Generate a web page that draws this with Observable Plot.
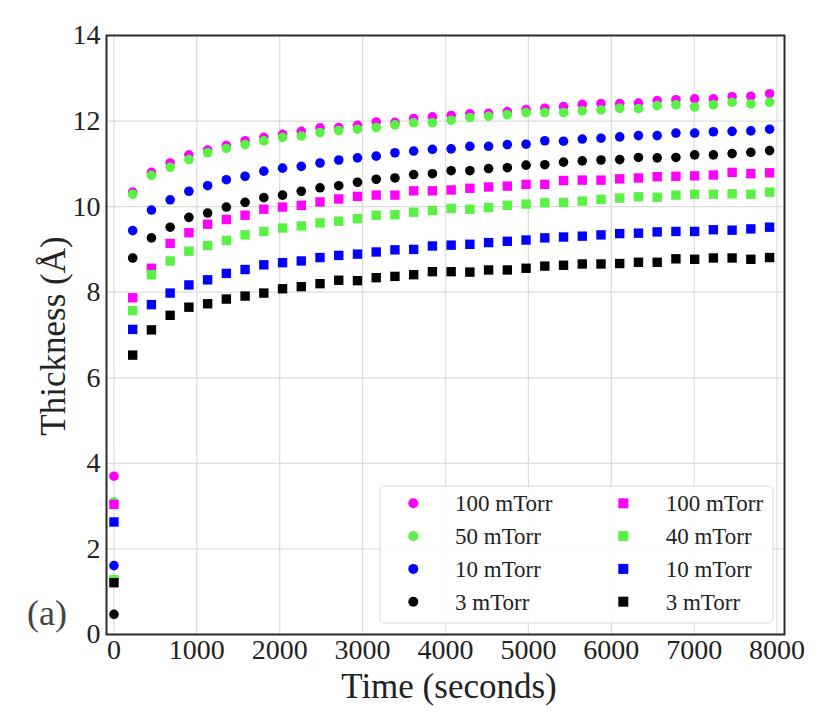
<!DOCTYPE html>
<html><head><meta charset="utf-8">
<script src="https://cdn.jsdelivr.net/npm/d3@7"></script>
<script src="https://cdn.jsdelivr.net/npm/@observablehq/plot@0.6"></script>
<style>
body{margin:0;background:#fff;}
#wrap{width:830px;height:727px;}
</style></head><body><div id="wrap"></div>
<script>
const times = [0, 226, 452, 678, 904, 1130, 1356, 1582, 1808, 2034, 2260, 2486, 2712, 2938, 3164, 3390, 3616, 3842, 4068, 4294, 4520, 4746, 4972, 5198, 5424, 5650, 5876, 6102, 6328, 6554, 6780, 7006, 7232, 7458, 7684, 7910];

const mag100c = [3.70, 10.34, 10.80, 11.02, 11.21, 11.32, 11.43, 11.54, 11.62, 11.69, 11.76, 11.84, 11.85, 11.90, 11.98, 11.97, 12.06, 12.10, 12.13, 12.17, 12.18, 12.22, 12.27, 12.30, 12.34, 12.39, 12.41, 12.41, 12.42, 12.48, 12.50, 12.52, 12.52, 12.57, 12.58, 12.64];
const green50c = [3.10, 10.29, 10.73, 10.92, 11.10, 11.26, 11.36, 11.45, 11.54, 11.62, 11.65, 11.73, 11.78, 11.81, 11.85, 11.91, 11.96, 11.96, 12.02, 12.08, 12.11, 12.15, 12.20, 12.20, 12.20, 12.24, 12.26, 12.30, 12.29, 12.36, 12.38, 12.33, 12.38, 12.44, 12.40, 12.44];
const blue10c = [1.61, 9.44, 9.92, 10.16, 10.36, 10.49, 10.63, 10.71, 10.83, 10.90, 10.94, 11.02, 11.09, 11.14, 11.18, 11.26, 11.30, 11.34, 11.35, 11.41, 11.41, 11.45, 11.46, 11.54, 11.53, 11.58, 11.60, 11.63, 11.66, 11.66, 11.72, 11.72, 11.75, 11.76, 11.77, 11.81];
const black3c = [0.47, 8.80, 9.27, 9.52, 9.75, 9.85, 9.99, 10.10, 10.21, 10.27, 10.36, 10.44, 10.49, 10.57, 10.64, 10.67, 10.75, 10.77, 10.84, 10.84, 10.89, 10.91, 10.97, 10.98, 11.04, 11.07, 11.09, 11.10, 11.15, 11.14, 11.15, 11.21, 11.21, 11.24, 11.27, 11.31];
const mag100s = [3.04, 7.87, 8.56, 9.14, 9.39, 9.59, 9.70, 9.80, 9.94, 9.99, 10.03, 10.11, 10.18, 10.24, 10.27, 10.27, 10.37, 10.37, 10.39, 10.43, 10.46, 10.48, 10.52, 10.52, 10.61, 10.62, 10.62, 10.65, 10.67, 10.70, 10.71, 10.72, 10.74, 10.80, 10.77, 10.79];
const green40s = [1.28, 7.57, 8.41, 8.73, 8.96, 9.09, 9.21, 9.34, 9.42, 9.50, 9.55, 9.62, 9.66, 9.72, 9.80, 9.81, 9.87, 9.91, 9.96, 9.94, 9.98, 10.03, 10.06, 10.09, 10.10, 10.13, 10.17, 10.20, 10.23, 10.22, 10.27, 10.29, 10.29, 10.30, 10.29, 10.34];
const blue10s = [2.63, 7.13, 7.71, 7.98, 8.17, 8.29, 8.44, 8.53, 8.64, 8.69, 8.73, 8.81, 8.86, 8.89, 8.94, 8.99, 9.00, 9.08, 9.10, 9.12, 9.16, 9.19, 9.22, 9.27, 9.29, 9.31, 9.34, 9.37, 9.38, 9.41, 9.42, 9.42, 9.46, 9.45, 9.48, 9.52];
const black3s = [1.21, 6.53, 7.12, 7.46, 7.65, 7.73, 7.84, 7.91, 7.98, 8.08, 8.13, 8.20, 8.28, 8.27, 8.34, 8.37, 8.41, 8.48, 8.48, 8.47, 8.52, 8.52, 8.56, 8.61, 8.63, 8.66, 8.66, 8.67, 8.70, 8.70, 8.78, 8.77, 8.80, 8.80, 8.77, 8.81];

const xTicks = [0, 1000, 2000, 3000, 4000, 5000, 6000, 7000, 8000];
const yTicks = [0, 2, 4, 6, 8, 10, 12, 14];

const seriesLabels = ["100 mTorr", "50 mTorr", "10 mTorr", "3 mTorr", "100 mTorr", "40 mTorr", "10 mTorr", "3 mTorr"];
const seriesSymbols = ["circle", "circle", "circle", "circle", "square", "square", "square", "square"];
const seriesColors = ["#ff00ff", "#57f242", "#0000ff", "#000000", "#ff00ff", "#57f242", "#0000ff", "#000000"];
const seriesValues = [mag100c, green50c, blue10c, black3c, mag100s, green40s, blue10s, black3s];

const FONT = '"Liberation Serif", "Times New Roman", serif';

const dotMarks = seriesValues.map((vals, i) =>
  Plot.dot(vals.map((v, k) => ({t: times[k], v})), {
    x: "t", y: "v",
    symbol: seriesSymbols[i],
    fill: seriesColors[i],
    r: seriesSymbols[i] === "circle" ? 4.8 : 5.3
  })
);

const chart = Plot.plot({
  width: 830, height: 727,
  marginLeft: 106, marginRight: 46, marginTop: 35, marginBottom: 93,
  x: {domain: [-90, 8090]},
  y: {domain: [0, 14]},
  style: {fontFamily: FONT, fontSize: "28px", color: "#222", background: "white"},
  marks: [
    Plot.gridX({ticks: xTicks, stroke: "#dcdcdc", strokeOpacity: 1, strokeWidth: 1.2}),
    Plot.gridY({ticks: yTicks, stroke: "#dcdcdc", strokeOpacity: 1, strokeWidth: 1.2}),
    ...dotMarks,
    Plot.axisX({ticks: xTicks, tickSize: 0, tickPadding: 5, tickFormat: d3.format("d"), label: null, fontSize: 28}),
    Plot.axisY({ticks: yTicks, tickSize: 0, tickPadding: 6, tickFormat: d3.format("d"), label: null, fontSize: 28}),
    Plot.frame({stroke: "#2a2a2a", strokeWidth: 2})
  ]
});

const svg = d3.select(chart);
// axis titles
svg.append("text").attr("x", 449).attr("y", 698).attr("text-anchor", "middle")
  .attr("font-family", FONT).attr("font-size", 35).attr("fill", "#222").text("Time (seconds)");
svg.append("text").attr("transform", "translate(65,336) rotate(-90)").attr("text-anchor", "middle")
  .attr("font-family", FONT).attr("font-size", 35).attr("fill", "#222").text("Thickness (Å)");
svg.append("text").attr("x", 27).attr("y", 625).attr("text-anchor", "start")
  .attr("font-family", FONT).attr("font-size", 36).attr("fill", "#444").text("(a)");

// legend
const lg = svg.append("g");
lg.append("rect").attr("x", 380).attr("y", 486).attr("width", 393).attr("height", 137)
  .attr("rx", 5).attr("fill", "white").attr("fill-opacity", 0.85).attr("stroke", "#d8d8d8");
seriesLabels.forEach((lab, i) => {
  const col = Math.floor(i / 4), row = i % 4;
  const cx = col === 0 ? 413.3 : 623.3;
  const tx = col === 0 ? 455 : 665.7;
  const cy = 503.3 + row * 32.8;
  if (seriesSymbols[i] === "circle") {
    lg.append("circle").attr("cx", cx).attr("cy", cy).attr("r", 5).attr("fill", seriesColors[i]);
  } else {
    lg.append("rect").attr("x", cx - 5).attr("y", cy - 5).attr("width", 10).attr("height", 10).attr("fill", seriesColors[i]);
  }
  lg.append("text").attr("x", tx).attr("y", cy).attr("dy", "0.34em").attr("text-anchor", "start")
    .attr("font-family", FONT).attr("font-size", 23).attr("fill", "#222").text(lab);
});

document.getElementById("wrap").appendChild(chart);
</script>
</body></html>
